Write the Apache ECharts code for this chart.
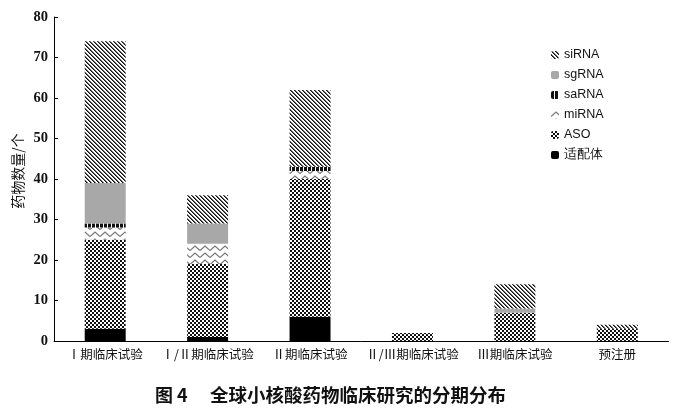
<!DOCTYPE html>
<html>
<head>
<meta charset="utf-8">
<script src="https://cdn.jsdelivr.net/npm/echarts@6/dist/echarts.min.js"></script>
<style>
html,body{margin:0;padding:0;background:#fff;}
#main{width:680px;height:412px;}
</style>
</head>
<body>
<div id="main"></div>
<script>
// ---- data ----
const categories = ['Ⅰ期临床试验','Ⅰ/Ⅱ期临床试验','Ⅱ期临床试验','Ⅱ/Ⅲ期临床试验','Ⅲ期临床试验','预注册'];
const aptamer = [3, 1, 6, 0, 0, 0];
const aso     = [22, 18, 34, 2, 7, 3];
const mirna   = [3, 5, 2, 0, 0, 0];
const sarna   = [1, 0, 1, 0, 0, 0];
const sgrna   = [10, 5, 0, 0, 1, 0];
const sirna   = [35, 7, 19, 0, 6, 1];
const yTicks  = [0, 10, 20, 30, 40, 50, 60, 70, 80];
const legendOrder = ['siRNA','sgRNA','saRNA','miRNA','ASO','适配体'];

// ---- patterns ----
function makeCanvas(w, h, draw) {
  const c = document.createElement('canvas');
  c.width = w; c.height = h;
  const ctx = c.getContext('2d');
  ctx.fillStyle = '#fff'; ctx.fillRect(0, 0, w, h);
  draw(ctx, w, h);
  return c;
}
const pSi = makeCanvas(4, 4, (ctx) => {
  for (let x = 0; x < 4; x++) for (let y = 0; y < 4; y++) {
    const m = ((x - y) % 4 + 4) % 4;
    if (m === 0) { ctx.fillStyle = '#111'; ctx.fillRect(x, y, 1, 1); }
    else if (m === 1) { ctx.fillStyle = '#666'; ctx.fillRect(x, y, 1, 1); }
  }
});
const pAso = makeCanvas(4, 4, (ctx) => {
  ctx.fillStyle = '#111';
  ctx.fillRect(0, 0, 2, 2); ctx.fillRect(2, 2, 2, 2);
});
const pMi = makeCanvas(10, 7, (ctx) => {
  ctx.strokeStyle = '#777'; ctx.lineWidth = 1.2;
  ctx.beginPath();
  ctx.moveTo(0, 5.5); ctx.lineTo(5, 1); ctx.lineTo(10, 5.5);
  ctx.stroke();
});
const pSa = makeCanvas(4, 4, (ctx) => {
  ctx.fillStyle = '#111'; ctx.fillRect(0, 0, 3, 4);
});
const styles = {
  'siRNA': { image: pSi, repeat: 'repeat' },
  'sgRNA': '#a8a8a8',
  'saRNA': { image: pSa, repeat: 'repeat' },
  'miRNA': { image: pMi, repeat: 'repeat' },
  'ASO': { image: pAso, repeat: 'repeat' },
  '适配体': '#000'
};
const seriesData = [
  ['适配体', aptamer], ['ASO', aso], ['miRNA', mirna],
  ['saRNA', sarna], ['sgRNA', sgrna], ['siRNA', sirna]
];

const chart = echarts.init(document.getElementById('main'), null, { renderer: 'canvas' });
chart.setOption({
  animation: false,
  backgroundColor: '#fff',
  grid: { left: 54, right: 11.5, top: 17, bottom: 71, containLabel: false },
  legend: {
    orient: 'vertical', left: 546, top: 43,
    data: legendOrder,
    itemWidth: 8, itemHeight: 8, itemGap: 6,
    textStyle: { fontFamily: 'Liberation Sans, Arial, sans-serif', fontSize: 12.5, color: '#111', lineHeight: 14 }
  },
  xAxis: {
    type: 'category', data: categories,
    axisLine: { lineStyle: { color: '#000', width: 1 } },
    axisTick: { show: false },
    axisLabel: { fontFamily: 'Noto Sans CJK SC', fontSize: 12.5, color: '#111', margin: 7, interval: 0 }
  },
  yAxis: {
    type: 'value', min: yTicks[0], max: yTicks[yTicks.length - 1], interval: 10,
    axisLine: { show: true, lineStyle: { color: '#000', width: 1 } },
    axisTick: { show: true, inside: true, length: 4, lineStyle: { color: '#000' } },
    axisLabel: { fontFamily: 'Liberation Serif, Times New Roman, serif', fontWeight: 'bold', fontSize: 14.5, color: '#111', margin: 6 },
    splitLine: { show: false }
  },
  series: seriesData.map(([name, vals]) => ({
    name, type: 'bar', stack: 'total', barWidth: '40%',
    data: vals,
    itemStyle: { color: styles[name] }
  })),
  graphic: [
    { type: 'text', x: 18, y: 171, rotation: Math.PI / 2,
      style: { text: '药物数量/个', fontFamily: 'Noto Sans CJK SC', fontSize: 14, fill: '#111', align: 'center', verticalAlign: 'middle' } },
    { type: 'text', x: 155, y: 395,
      style: { text: '图 4', fontFamily: 'Noto Sans CJK SC', fontWeight: 'bold', fontSize: 18, fill: '#111', align: 'left', verticalAlign: 'middle' } },
    { type: 'text', x: 210, y: 395,
      style: { text: '全球小核酸药物临床研究的分期分布', fontFamily: 'Noto Sans CJK SC', fontWeight: 'bold', fontSize: 18.5, fill: '#111', align: 'left', verticalAlign: 'middle' } }
  ]
});
</script>
</body>
</html>
